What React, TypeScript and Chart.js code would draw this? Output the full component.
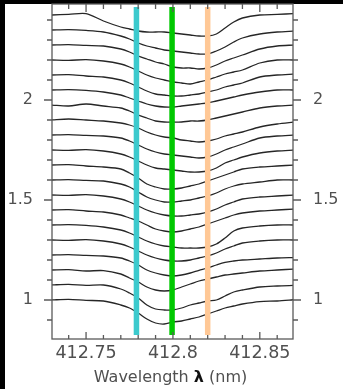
import React, { useEffect, useRef } from "react";
import { Chart, registerables } from "chart.js";

Chart.register(...registerables);

// Sampled wavelengths (nm) shared by every scan
const WAVELENGTHS = [
  412.73, 412.74, 412.75, 412.76, 412.77, 412.775, 412.78, 412.785, 412.79, 412.795, 412.8,
  412.805, 412.81, 412.815, 412.82, 412.825, 412.83, 412.835, 412.84, 412.85, 412.86, 412.87,
];

// Stacked line profiles, bottom scan first (already offset for display)
const SCAN_01 = [1.0, 1.003, 0.998, 0.995, 0.975, 0.96, 0.935, 0.905, 0.885, 0.88, 0.89, 0.895, 0.905, 0.915, 0.93, 0.945, 0.96, 0.97, 0.98, 0.992, 0.995, 1.002];
const SCAN_02 = [1.075, 1.078, 1.073, 1.075, 1.055, 1.035, 1.01, 0.975, 0.955, 0.95, 0.95, 0.96, 0.975, 0.985, 0.995, 1.0, 1.02, 1.04, 1.05, 1.065, 1.07, 1.073];
const SCAN_03 = [1.15, 1.152, 1.145, 1.147, 1.13, 1.11, 1.09, 1.065, 1.05, 1.045, 1.05, 1.065, 1.08, 1.095, 1.105, 1.115, 1.125, 1.13, 1.135, 1.145, 1.15, 1.155];
const SCAN_04 = [1.225, 1.227, 1.223, 1.22, 1.21, 1.195, 1.175, 1.15, 1.135, 1.125, 1.12, 1.125, 1.135, 1.148, 1.16, 1.175, 1.188, 1.195, 1.2, 1.205, 1.21, 1.212];
const SCAN_05 = [1.3, 1.298, 1.302, 1.295, 1.28, 1.265, 1.245, 1.225, 1.21, 1.2, 1.195, 1.195, 1.2, 1.21, 1.22, 1.235, 1.255, 1.27, 1.285, 1.295, 1.3, 1.3];
const SCAN_06 = [1.375, 1.377, 1.373, 1.365, 1.35, 1.335, 1.315, 1.295, 1.28, 1.27, 1.265, 1.26, 1.26, 1.26, 1.265, 1.28, 1.31, 1.345, 1.36, 1.37, 1.375, 1.375];
const SCAN_07 = [1.45, 1.452, 1.445, 1.44, 1.425, 1.41, 1.395, 1.375, 1.355, 1.345, 1.34, 1.345, 1.355, 1.365, 1.38, 1.395, 1.41, 1.425, 1.435, 1.445, 1.45, 1.455];
const SCAN_08 = [1.525, 1.523, 1.527, 1.52, 1.505, 1.49, 1.47, 1.45, 1.435, 1.425, 1.42, 1.42, 1.425, 1.43, 1.44, 1.455, 1.475, 1.49, 1.505, 1.515, 1.52, 1.525];
const SCAN_09 = [1.6, 1.602, 1.598, 1.595, 1.58, 1.565, 1.54, 1.515, 1.5, 1.49, 1.49, 1.495, 1.5, 1.51, 1.52, 1.535, 1.555, 1.57, 1.58, 1.59, 1.6, 1.6];
const SCAN_10 = [1.675, 1.677, 1.67, 1.665, 1.655, 1.635, 1.61, 1.58, 1.565, 1.555, 1.555, 1.56, 1.57, 1.58, 1.595, 1.61, 1.625, 1.64, 1.655, 1.665, 1.67, 1.675];
const SCAN_11 = [1.75, 1.748, 1.752, 1.745, 1.73, 1.715, 1.695, 1.675, 1.66, 1.655, 1.65, 1.645, 1.64, 1.64, 1.645, 1.66, 1.685, 1.7, 1.715, 1.735, 1.745, 1.75];
const SCAN_12 = [1.825, 1.827, 1.823, 1.82, 1.81, 1.795, 1.775, 1.755, 1.74, 1.73, 1.725, 1.72, 1.715, 1.71, 1.715, 1.73, 1.75, 1.765, 1.78, 1.81, 1.82, 1.825];
const SCAN_13 = [1.9, 1.905, 1.9, 1.895, 1.885, 1.875, 1.86, 1.84, 1.825, 1.815, 1.81, 1.8, 1.795, 1.79, 1.795, 1.805, 1.82, 1.83, 1.84, 1.865, 1.88, 1.89];
const SCAN_14 = [1.975, 1.97, 1.98, 1.97, 1.96, 1.945, 1.925, 1.91, 1.895, 1.89, 1.89, 1.89, 1.895, 1.895, 1.9, 1.91, 1.92, 1.93, 1.94, 1.96, 1.97, 1.975];
const SCAN_15 = [2.05, 2.052, 2.048, 2.04, 2.025, 2.01, 1.995, 1.98, 1.97, 1.965, 1.965, 1.97, 1.975, 1.98, 1.985, 1.995, 2.005, 2.015, 2.025, 2.04, 2.05, 2.05];
const SCAN_16 = [2.125, 2.127, 2.12, 2.115, 2.1, 2.085, 2.065, 2.045, 2.03, 2.025, 2.02, 2.02, 2.025, 2.03, 2.04, 2.05, 2.065, 2.075, 2.085, 2.115, 2.125, 2.13];
const SCAN_17 = [2.2, 2.198, 2.202, 2.195, 2.18, 2.165, 2.145, 2.125, 2.11, 2.1, 2.09, 2.085, 2.08, 2.09, 2.1, 2.115, 2.13, 2.14, 2.15, 2.185, 2.2, 2.2];
const SCAN_18 = [2.275, 2.277, 2.273, 2.27, 2.255, 2.24, 2.22, 2.205, 2.19, 2.18, 2.165, 2.16, 2.16, 2.155, 2.16, 2.175, 2.195, 2.21, 2.225, 2.255, 2.27, 2.275];
const SCAN_19 = [2.35, 2.352, 2.348, 2.34, 2.32, 2.305, 2.285, 2.27, 2.26, 2.25, 2.245, 2.24, 2.235, 2.23, 2.23, 2.245, 2.265, 2.29, 2.31, 2.33, 2.34, 2.345];
const SCAN_20 = [2.425, 2.428, 2.432, 2.395, 2.365, 2.355, 2.345, 2.34, 2.34, 2.34, 2.335, 2.33, 2.325, 2.32, 2.32, 2.33, 2.36, 2.39, 2.41, 2.425, 2.428, 2.432];

const SCANS = [
  SCAN_01, SCAN_02, SCAN_03, SCAN_04, SCAN_05, SCAN_06, SCAN_07, SCAN_08, SCAN_09, SCAN_10,
  SCAN_11, SCAN_12, SCAN_13, SCAN_14, SCAN_15, SCAN_16, SCAN_17, SCAN_18, SCAN_19, SCAN_20,
];

// Reference wavelengths marked by vertical bars
const MARKER_WAVELENGTHS = [412.779, 412.7995, 412.82];
const MARKER_COLORS = ["#3ccacd", "#00c800", "#ffc896"];
const MARKER_SPAN = [0.825, 2.465];

// Axis ticks
const X_LABEL_TICKS = [412.75, 412.8, 412.85];
const X_MINOR_TICKS = [412.74, 412.75, 412.76, 412.77, 412.78, 412.79, 412.8, 412.81, 412.82, 412.83, 412.84, 412.85, 412.86];
const Y_LABEL_TICKS = [1, 1.5, 2];
const Y_MINOR_TICKS = [0.9, 1.0, 1.1, 1.2, 1.3, 1.4, 1.5, 1.6, 1.7, 1.8, 1.9, 2.0, 2.1, 2.2, 2.3, 2.4];

const X_RANGE = [412.7304, 412.8691];
const Y_RANGE = [0.805, 2.48];

const FONT = '"DejaVu Sans", sans-serif';
const AXIS_COLOR = "#5a5a5a";
const LABEL_COLOR = "#505050";

const isMajor = (list: number[], v: number) => list.some((m) => Math.abs(m - v) < 1e-6);

// Keep the plot area fixed: no extra room reserved for edge labels
const noEdgePadding = (s: any) => {
  s.paddingTop = 0;
  s.paddingBottom = 0;
  s.paddingLeft = 0;
  s.paddingRight = 0;
};

const frameAndTicks = {
  id: "frameAndTicks",
  afterDraw(chart: any) {
    const { ctx, chartArea: a, scales } = chart;
    const xs = scales.x;
    const ys = scales.y;
    ctx.save();
    ctx.strokeStyle = AXIS_COLOR;
    ctx.lineWidth = 1.3;
    ctx.strokeRect(a.left, a.top, a.right - a.left, a.bottom - a.top);

    ctx.beginPath();
    X_MINOR_TICKS.forEach((v) => {
      const px = xs.getPixelForValue(v);
      const len = isMajor(X_LABEL_TICKS, v) ? 7 : 4;
      ctx.moveTo(px, a.bottom);
      ctx.lineTo(px, a.bottom - len);
      ctx.moveTo(px, a.top);
      ctx.lineTo(px, a.top + len + 1);
    });
    Y_MINOR_TICKS.forEach((v) => {
      const py = ys.getPixelForValue(v);
      const len = isMajor(Y_LABEL_TICKS, v) ? 8 : 5;
      ctx.moveTo(a.left, py);
      ctx.lineTo(a.left - len, py);
      ctx.moveTo(a.right, py);
      ctx.lineTo(a.right + len, py);
    });
    ctx.stroke();

    // Axis title with a bold lambda
    const y = 382;
    const partA = "Wavelength ";
    const partB = "\u03bb";
    const partC = " (nm)";
    ctx.fillStyle = LABEL_COLOR;
    ctx.textBaseline = "alphabetic";
    ctx.textAlign = "left";
    const normal = `16px ${FONT}`;
    const bold = `bold 16px ${FONT}`;
    ctx.font = normal;
    const wA = ctx.measureText(partA).width;
    const wC = ctx.measureText(partC).width;
    ctx.font = bold;
    const wB = ctx.measureText(partB).width;
    const cx = (a.left + a.right) / 2 - 2;
    let x = cx - (wA + wB + wC) / 2;
    ctx.font = normal;
    ctx.fillText(partA, x, y);
    x += wA;
    ctx.font = bold;
    ctx.fillStyle = "#111";
    ctx.fillText(partB, x, y);
    x += wB;
    ctx.font = normal;
    ctx.fillStyle = LABEL_COLOR;
    ctx.fillText(partC, x, y);
    ctx.restore();
  },
};

export default function App() {
  const canvasRef = useRef<HTMLCanvasElement | null>(null);

  useEffect(() => {
    const canvas = canvasRef.current;
    if (!canvas) return;

    const markerSets = MARKER_WAVELENGTHS.map((w, k) => ({
      data: [
        { x: w, y: MARKER_SPAN[0] },
        { x: w, y: MARKER_SPAN[1] },
      ],
      borderColor: MARKER_COLORS[k],
      borderWidth: 5.5,
      borderCapStyle: "butt",
      pointRadius: 0,
      clip: false,
      order: -1,
    }));

    const scanSets = SCANS.map((scan) => ({
      data: scan.map((v, j) => ({ x: WAVELENGTHS[j], y: v })),
      borderColor: "#262626",
      borderWidth: 1.3,
      pointRadius: 0,
      tension: 0.3,
      order: 0,
    }));

    const yTickFont = { family: FONT, size: 16 };

    const chart = new Chart(canvas, {
      type: "line",
      data: { datasets: [...markerSets, ...scanSets] as any },
      options: {
        animation: false,
        responsive: false,
        devicePixelRatio: 1,
        layout: { padding: { top: 4, left: 0, right: 0, bottom: 0 } },
        plugins: { legend: { display: false }, tooltip: { enabled: false } },
        scales: {
          x: {
            type: "linear",
            position: "bottom",
            min: X_RANGE[0],
            max: X_RANGE[1],
            afterBuildTicks: (s: any) => {
              s.ticks = X_LABEL_TICKS.map((v) => ({ value: v }));
            },
            afterFit: (s: any) => {
              s.height = 50;
              noEdgePadding(s);
            },
            ticks: {
              callback: (v: any) => String(+Number(v).toFixed(3)),
              color: LABEL_COLOR,
              font: { family: FONT, size: 17.5 },
              padding: 4,
              maxRotation: 0,
              autoSkip: false,
            },
            grid: { display: false, drawTicks: false },
            border: { display: false },
          },
          y: {
            type: "linear",
            position: "left",
            min: Y_RANGE[0],
            max: Y_RANGE[1],
            afterBuildTicks: (s: any) => {
              s.ticks = Y_LABEL_TICKS.map((v) => ({ value: v }));
            },
            afterFit: (s: any) => {
              s.width = 52;
              noEdgePadding(s);
            },
            ticks: {
              callback: (v: any) => String(v),
              color: LABEL_COLOR,
              font: yTickFont,
              padding: 19,
            },
            grid: { display: false, drawTicks: false },
            border: { display: false },
          },
          y2: {
            type: "linear",
            position: "right",
            min: Y_RANGE[0],
            max: Y_RANGE[1],
            afterBuildTicks: (s: any) => {
              s.ticks = Y_LABEL_TICKS.map((v) => ({ value: v }));
            },
            afterFit: (s: any) => {
              s.width = 50;
              noEdgePadding(s);
            },
            ticks: {
              callback: (v: any) => String(v),
              color: LABEL_COLOR,
              font: yTickFont,
              padding: 20,
            },
            grid: { display: false, drawTicks: false },
            border: { display: false },
          },
        },
      } as any,
      plugins: [frameAndTicks],
    });

    return () => chart.destroy();
  }, []);

  return (
    <div
      style={{
        position: "fixed",
        left: 0,
        top: 0,
        width: 343,
        height: 389,
        background: "#ffffff",
        overflow: "hidden",
      }}
    >
      <div style={{ position: "absolute", left: 0, top: 0, width: 343, height: 4, background: "#000" }} />
      <div style={{ position: "absolute", left: 0, top: 0, width: 5, height: 389, background: "#000" }} />
      <canvas
        ref={canvasRef}
        width={343}
        height={389}
        style={{ position: "absolute", left: 0, top: 0, width: 343, height: 389 }}
      />
    </div>
  );
}
